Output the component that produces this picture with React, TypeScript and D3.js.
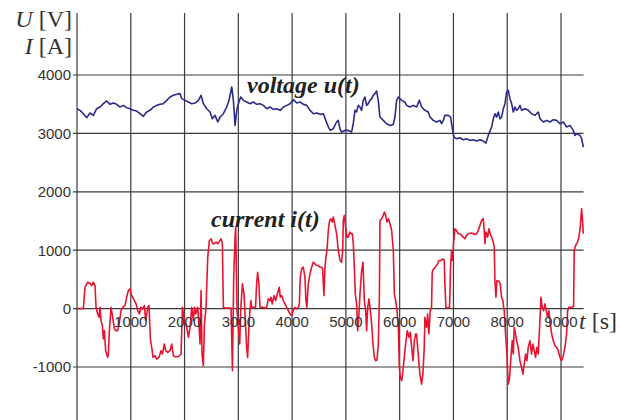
import React from "react";
import * as d3 from "d3";

const xTicks = [0, 1000, 2000, 3000, 4000, 5000, 6000, 7000, 8000, 9000];
const xTickLabels = ["", "1000", "2000", "3000", "4000", "5000", "6000", "7000", "8000", "9000"];
const yTicks = [4000, 3000, 2000, 1000, 0, -1000];
const yTickLabels = ["4000", "3000", "2000", "1000", "0", "-1000"];

// [time s, voltage V]
const voltage: [number, number][] = [
  [0,3423],[56,3395],[118,3337],[180,3269],[242,3349],[304,3309],[366,3423],[428,3452],[490,3509],[552,3555],
  [614,3498],[676,3520],[738,3498],[800,3452],[862,3480],[924,3440],[986,3423],[1048,3395],[1110,3383],[1172,3337],
  [1234,3292],[1296,3366],[1358,3395],[1420,3452],[1482,3480],[1544,3498],[1606,3509],[1668,3566],[1730,3623],[1792,3652],
  [1854,3669],[1916,3681],[1947,3595],[2009,3566],[2071,3538],[2133,3509],[2195,3520],[2257,3566],[2307,3652],[2350,3509],
  [2412,3423],[2474,3366],[2517,3252],[2567,3309],[2617,3195],[2660,3280],[2722,3337],[2784,3452],[2827,3566],[2877,3795],
  [2908,3566],[2939,3137],[2970,3395],[3001,3509],[3044,3623],[3094,3566],[3156,3538],[3218,3509],[3280,3538],[3342,3498],
  [3404,3509],[3466,3480],[3528,3423],[3590,3452],[3652,3412],[3714,3423],[3776,3395],[3838,3452],[3900,3480],[3962,3509],
  [4024,3578],[4086,3520],[4148,3538],[4210,3498],[4272,3480],[4334,3395],[4396,3337],[4458,3349],[4520,3326],[4582,3337],
  [4625,3223],[4675,3109],[4710,3051],[4765,3080],[4827,3195],[4858,3223],[4889,3080],[4920,3023],[4982,3051],[5044,3051],
  [5106,3023],[5137,3166],[5168,3395],[5199,3366],[5230,3480],[5261,3452],[5292,3395],[5323,3566],[5354,3623],[5385,3480],
  [5416,3509],[5447,3566],[5478,3595],[5509,3652],[5540,3681],[5571,3726],[5602,3566],[5633,3280],[5695,3223],[5757,3166],
  [5819,3137],[5881,3154],[5912,3280],[5943,3566],[5974,3623],[6005,3595],[6036,3566],[6098,3538],[6129,3480],[6191,3452],
  [6253,3480],[6315,3452],[6365,3566],[6408,3452],[6470,3395],[6532,3366],[6563,3280],[6594,3252],[6625,3223],[6687,3195],
  [6749,3223],[6780,3166],[6811,3223],[6842,3309],[6904,3309],[6947,3280],[6985,3051],[7009,2937],[7059,2909],[7121,2926],
  [7183,2891],[7245,2909],[7307,2880],[7369,2891],[7431,2868],[7493,2891],[7555,2868],[7605,2834],[7648,2966],[7710,3109],
  [7741,3252],[7772,3337],[7803,3280],[7834,3366],[7865,3252],[7896,3280],[7927,3423],[7958,3509],[7989,3709],[8020,3738],
  [8051,3595],[8082,3509],[8113,3366],[8144,3452],[8175,3395],[8206,3423],[8237,3480],[8268,3395],[8330,3423],[8392,3395],
  [8454,3337],[8516,3309],[8578,3366],[8609,3252],[8671,3195],[8733,3223],[8795,3195],[8857,3235],[8919,3223],[8981,3166],
  [9043,3195],[9105,3109],[9167,3137],[9229,3051],[9260,2966],[9291,2994],[9353,2966],[9384,2909],[9415,2766]
];

// [time s, current A]
const current: [number, number][] = [
  [0,0],[87,0],[118,0],[149,366],[199,452],[242,435],[273,395],[304,452],[335,395],[354,23],[385,-92],[409,-149],[428,23],
  [447,-206],[471,-292],[490,-520],[509,-377],[533,-721],[571,-835],[583,-778],[602,-377],[633,23],[664,-149],[695,-349],
  [726,-377],[757,-377],[788,-235],[819,-34],[850,23],[893,51],[924,195],[955,309],[986,337],[1005,252],[1029,206],[1067,137],
  [1098,80],[1129,-34],[1160,-92],[1191,23],[1222,-6],[1253,51],[1277,-206],[1315,23],[1339,51],[1364,-520],[1389,-664],
  [1414,-835],[1451,-807],[1482,-864],[1525,-835],[1563,-721],[1587,-778],[1625,-606],[1649,-721],[1687,-749],[1730,-721],
  [1761,-606],[1792,-807],[1823,-824],[1885,-824],[1935,-778],[1960,23],[1997,-206],[2040,-320],[2071,-492],[2102,-320],
  [2133,23],[2164,-206],[2183,23],[2207,-92],[2245,23],[2270,-320],[2288,-606],[2307,309],[2325,-778],[2350,-978],[2369,-263],
  [2400,23],[2431,881],[2462,1167],[2493,1195],[2524,1110],[2555,1110],[2586,1138],[2617,1110],[2648,1155],[2679,1195],
  [2703,1110],[2722,23],[2753,11],[2815,11],[2865,11],[2890,-1064],[2914,538],[2939,1224],[2951,1396],[2976,-34],[3001,-320],
  [3026,-606],[3044,-34],[3075,423],[3106,252],[3130,-200],[3154,-664],[3173,-835],[3197,-320],[3216,-34],[3235,137],[3247,23],
  [3278,23],[3320,23],[3340,423],[3359,623],[3383,423],[3402,23],[3464,23],[3526,11],[3557,166],[3588,137],[3607,195],[3631,80],
  [3662,223],[3693,137],[3718,223],[3743,309],[3762,366],[3780,195],[3805,223],[3836,137],[3867,80],[3898,23],[3929,-34],
  [3960,-92],[3991,-120],[4022,-34],[4053,23],[4084,-6],[4115,23],[4134,80],[4152,538],[4177,681],[4208,709],[4239,538],
  [4257,137],[4276,23],[4301,423],[4332,595],[4363,709],[4394,795],[4425,766],[4456,738],[4487,738],[4518,709],[4549,709],
  [4567,681],[4592,223],[4611,709],[4629,881],[4648,995],[4673,1338],[4698,1510],[4722,1539],[4747,1482],[4766,1567],
  [4797,1424],[4828,1281],[4859,995],[4890,824],[4921,795],[4940,995],[4952,1510],[4971,1596],[4995,1396],[5020,1224],
  [5045,1224],[5070,1310],[5095,1281],[5119,1281],[5138,1110],[5157,709],[5175,252],[5200,80],[5219,-378],[5243,-92],
  [5262,252],[5293,652],[5318,795],[5343,137],[5367,-34],[5386,-378],[5405,23],[5429,166],[5454,-34],[5479,-263],[5504,-606],
  [5529,-835],[5553,-892],[5578,-881],[5603,-606],[5622,137],[5634,1510],[5665,1539],[5696,1596],[5715,1653],[5740,1596],
  [5765,1482],[5790,1539],[5821,1453],[5851,1338],[5882,995],[5901,252],[5926,137],[5951,-34],[5975,-320],[5994,-1007],
  [6012,-1178],[6037,-1236],[6061,-1064],[6086,-835],[6111,-606],[6142,-378],[6173,-492],[6198,-406],[6223,-664],[6248,-892],
  [6273,-549],[6297,-435],[6314,-435],[6345,-778],[6376,-1121],[6407,-1293],[6432,-1121],[6457,-664],[6469,-149],[6500,-320],
  [6519,-92],[6543,-435],[6568,-34],[6593,23],[6605,623],[6630,681],[6667,709],[6705,766],[6729,824],[6766,824],[6810,852],
  [6829,824],[6841,423],[6860,23],[6891,11],[6928,23],[6946,709],[6965,995],[6984,824],[7002,1110],[7027,1367],[7058,1338],
  [7089,1281],[7120,1281],[7151,1253],[7182,1224],[7213,1195],[7244,1253],[7275,1281],[7337,1293],[7399,1270],[7430,1281],
  [7461,1338],[7492,1424],[7523,1510],[7554,1539],[7573,1338],[7585,1110],[7604,1310],[7635,1224],[7659,1367],[7684,1281],
  [7709,1224],[7740,1138],[7759,1052],[7771,480],[7790,194],[7808,480],[7845,469],[7870,423],[7895,194],[7920,137],[7932,23],
  [7945,-34],[7969,-435],[7994,-778],[8019,-1293],[8044,-1178],[8069,-835],[8093,-549],[8112,-778],[8131,-320],[8155,-435],
  [8174,-549],[8205,-664],[8236,-892],[8267,-1007],[8292,-1121],[8317,-949],[8342,-778],[8366,-892],[8391,-664],[8422,-549],
  [8453,-778],[8478,-606],[8503,-721],[8527,-835],[8552,-664],[8577,-778],[8602,-320],[8627,194],[8651,23],[8676,-34],
  [8701,80],[8726,-34],[8751,-149],[8775,-34],[8800,-263],[8825,-435],[8856,-549],[8887,-635],[8918,-664],[8949,-721],
  [8980,-835],[9011,-892],[9042,-806],[9073,-664],[9104,-435],[9123,-34],[9147,23],[9197,23],[9234,34],[9246,995],
  [9271,1081],[9308,1138],[9333,1224],[9358,1396],[9383,1710],[9401,1510],[9414,1281]
];

const W = 620;
const H = 420;

export default function App() {
  const x = d3.scaleLinear().domain([0, 9000]).range([77, 561]);
  const y = d3.scaleLinear().domain([-1000, 4000]).range([367, 75]);
  const xEnd = x(9420);
  const yTop = y(5060);
  const line = d3
    .line<[number, number]>()
    .x((d) => x(d[0]))
    .y((d) => y(d[1]));

  const grid = "#3a3a3a";
  const txt = "#333";
  const sans = "'Liberation Sans', Arial, sans-serif";
  const serif = "'Liberation Serif', 'Times New Roman', serif";

  return (
    <svg
      width={W}
      height={H}
      style={{ position: "absolute", left: 0, top: 0, background: "#fff" }}
    >
      <rect x={0} y={0} width={W} height={H} fill="#fff" />
      {yTicks.map((t) => (
        <line key={"h" + t} x1={73} x2={xEnd} y1={y(t)} y2={y(t)} stroke={grid} strokeWidth={1.2} />
      ))}
      {xTicks.map((t) => (
        <line key={"v" + t} x1={x(t)} x2={x(t)} y1={yTop} y2={H} stroke={grid} strokeWidth={1.2} />
      ))}
      <path d={line(voltage) || ""} fill="none" stroke="#2b2a8a" strokeWidth={1.6} strokeLinejoin="round" />
      <path d={line(current) || ""} fill="none" stroke="#e8142f" strokeWidth={1.6} strokeLinejoin="round" />
      {yTicks.map((t, i) => (
        <text key={"yl" + t} x={71} y={y(t)} dy="0.36em" textAnchor="end" fontFamily={sans} fontSize={15} fill={txt}>
          {yTickLabels[i]}
        </text>
      ))}
      {xTicks.map((t, i) =>
        xTickLabels[i] ? (
          <text key={"xl" + t} x={x(t)} y={327} textAnchor="middle" fontFamily={sans} fontSize={15} fill={txt}>
            {xTickLabels[i]}
          </text>
        ) : null
      )}
      <text x={72} y={27} textAnchor="end" fontFamily={serif} fontSize={24} fill={txt}>
        <tspan fontStyle="italic">U</tspan> [V]
      </text>
      <text x={72} y={54} textAnchor="end" fontFamily={serif} fontSize={24} fill={txt}>
        <tspan fontStyle="italic">I</tspan> [A]
      </text>
      <text x={579} y={329} fontFamily={serif} fontSize={24} fill={txt}>
        <tspan fontStyle="italic">t</tspan> [s]
      </text>
      <text x={247} y={93} fontFamily={serif} fontSize={24} fontWeight="bold" fontStyle="italic" fill="#222">
        voltage u(t)
      </text>
      <text x={211} y={227} fontFamily={serif} fontSize={24} fontWeight="bold" fontStyle="italic" fill="#222">
        current i(t)
      </text>
    </svg>
  );
}
